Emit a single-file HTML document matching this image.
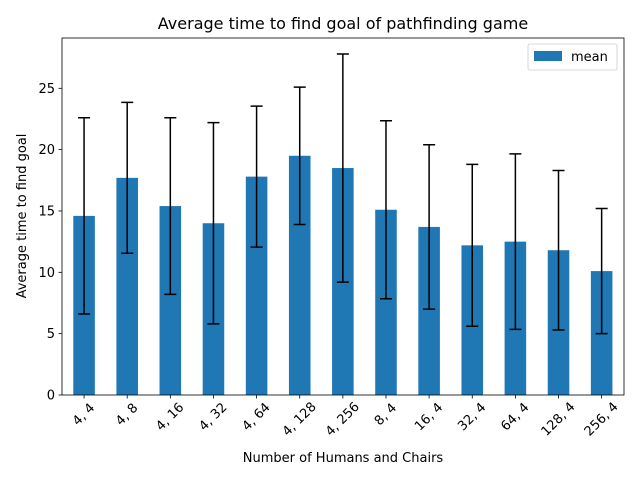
<!DOCTYPE html>
<html><head><meta charset="utf-8"><style>
body{margin:0;background:#fff}
svg text{font-family:"DejaVu Sans","Liberation Sans",sans-serif;fill:#000}
</style></head><body>
<svg id="chart" width="640" height="480" xmlns="http://www.w3.org/2000/svg">
<rect width="640" height="480" fill="#fff"/>
<g id="bars"></g>
<g id="errs"></g>
<g id="xt"></g>
<g id="yt"></g>
<rect x="62" y="38" width="562" height="357" fill="none" stroke="#000" stroke-width="0.8"/>
<text x="343" y="29" text-anchor="middle" font-size="16">Average time to find goal of pathfinding game</text>
<text x="343" y="462" text-anchor="middle" font-size="13">Number of Humans and Chairs</text>
<text transform="translate(26,216) rotate(-90)" text-anchor="middle" font-size="13">Average time to find goal</text>
<g>
<rect x="528" y="44" width="89" height="26" rx="2" fill="#fff" stroke="#ccc" stroke-width="0.8"/>
<rect x="534" y="51" width="28" height="10" fill="#1f77b4"/>
<text x="571" y="61" font-size="13">mean</text>
</g>
</svg>
<script>
const categories=["4, 4","4, 8","4, 16","4, 32","4, 64","4, 128","4, 256","8, 4","16, 4","32, 4","64, 4","128, 4","256, 4"];
const means=[14.6,17.7,15.4,14.0,17.8,19.5,18.5,15.1,13.7,12.2,12.5,11.8,10.1];
const stds=[8.0,6.15,7.2,8.2,5.75,5.6,9.3,7.25,6.7,6.6,7.15,6.5,5.1];
const yTicks=[0,5,10,15,20,25];
const NS="http://www.w3.org/2000/svg";
const L=62,R=624,T=38,B=395,YMAX=29.1;
const step=(R-L)/(categories.length+0.03);
const xs=i=>L+step*(i+0.5)+0.5;
const ys=v=>B-v*(B-T)/YMAX;
const bw=step*0.5;
function mk(tag,attrs,parent){const e=document.createElementNS(NS,tag);for(const k in attrs)e.setAttribute(k,attrs[k]);parent.appendChild(e);return e;}
const gb=document.getElementById('bars'),ge=document.getElementById('errs'),gx=document.getElementById('xt'),gy=document.getElementById('yt');
categories.forEach((c,i)=>{
 const cx=xs(i);
 const b=mk('rect',{x:cx-bw/2,y:ys(means[i]),width:bw,height:B-ys(means[i]),fill:'#1f77b4'},gb);
 
 
 const hi=ys(means[i]+stds[i]),lo=ys(means[i]-stds[i]);
 const e=mk('path',{d:`M${cx},${hi}V${lo}M${cx-6},${hi}H${cx+6}M${cx-6},${lo}H${cx+6}`,stroke:'#000','stroke-width':1.5,fill:'none'},ge);
 
 
 mk('line',{x1:cx,x2:cx,y1:B,y2:B+3.5,stroke:'#000','stroke-width':0.8},gx);
 const w=c.length*6.6,h=(w+10)*0.707;
 const t=mk('text',{'font-size':13,'text-anchor':'middle','dominant-baseline':'central',transform:`translate(${cx},${B+7+h/2}) rotate(-45)`},gx);
 t.textContent=c;
 
 
});
yTicks.forEach(v=>{
 const y=ys(v);
 mk('line',{x1:L-3.5,x2:L,y1:y,y2:y,stroke:'#000','stroke-width':0.8},gy);
 const t=mk('text',{x:L-7,y:y+4.5,'font-size':13,'text-anchor':'end'},gy);
 t.textContent=v;
 
 
});
</script>
</body></html>
